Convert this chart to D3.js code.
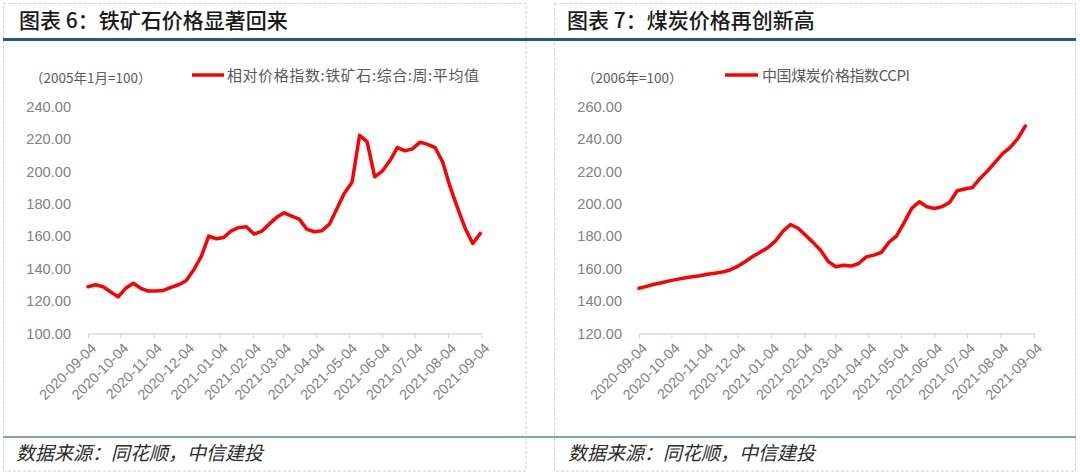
<!DOCTYPE html>
<html><head><meta charset="utf-8">
<script src="https://cdn.jsdelivr.net/npm/d3@7/dist/d3.min.js"></script>
<style>
html,body{margin:0;padding:0;background:#fff;}
svg{display:block;}
</style></head>
<body>
<svg id="c" width="1080" height="474"></svg>
<script>
// ---------- data ----------
const ironDates = ["2020-09-04","2020-09-11","2020-09-18","2020-09-25","2020-10-02","2020-10-09","2020-10-16","2020-10-23","2020-10-30","2020-11-06","2020-11-13","2020-11-20","2020-11-27","2020-12-04","2020-12-11","2020-12-18","2020-12-25","2021-01-01","2021-01-08","2021-01-15","2021-01-22","2021-01-29","2021-02-05","2021-02-12","2021-02-19","2021-02-26","2021-03-05","2021-03-12","2021-03-19","2021-03-26","2021-04-02","2021-04-09","2021-04-16","2021-04-23","2021-04-30","2021-05-07","2021-05-14","2021-05-21","2021-05-28","2021-06-04","2021-06-11","2021-06-18","2021-06-25","2021-07-02","2021-07-09","2021-07-16","2021-07-23","2021-07-30","2021-08-06","2021-08-13","2021-08-20","2021-08-27","2021-09-03"];
const ironValues = [128.9,130.1,128.9,125.6,122.7,127.9,131.0,127.9,126.2,126.2,126.6,128.5,130.1,132.6,139.2,147.4,160.1,158.5,159.3,163.4,165.5,165.9,161.4,163.0,167.5,171.7,174.5,172.5,170.6,164.4,162.8,163.4,167.5,177.2,186.8,193.4,222.4,218.3,196.7,200.2,206.6,214.8,212.7,214.0,218.1,216.7,214.8,206.0,190.5,177.2,164.9,155.6,161.8];

const coalDates = ["2020-09-04","2020-09-11","2020-09-18","2020-09-25","2020-10-02","2020-10-09","2020-10-16","2020-10-23","2020-10-30","2020-11-06","2020-11-13","2020-11-20","2020-11-27","2020-12-04","2020-12-11","2020-12-18","2020-12-25","2021-01-01","2021-01-08","2021-01-15","2021-01-22","2021-01-29","2021-02-05","2021-02-12","2021-02-19","2021-02-26","2021-03-05","2021-03-12","2021-03-19","2021-03-26","2021-04-02","2021-04-09","2021-04-16","2021-04-23","2021-04-30","2021-05-07","2021-05-14","2021-05-21","2021-05-28","2021-06-04","2021-06-11","2021-06-18","2021-06-25","2021-07-02","2021-07-09","2021-07-16","2021-07-23","2021-07-30","2021-08-06","2021-08-13","2021-08-20","2021-08-27"];
const coalValues = [147.9,149.1,150.4,151.3,152.5,153.4,154.3,155.0,155.6,156.6,157.2,157.9,159.2,161.4,164.3,167.5,170.2,173.0,177.0,183.1,187.3,185.0,180.6,176.1,171.2,164.3,161.2,162.1,161.6,163.2,167.3,168.4,170.1,176.3,180.3,188.4,197.2,201.3,198.2,197.2,198.3,200.9,208.1,209.2,210.1,215.6,220.3,225.6,231.1,234.9,240.3,248.1];

const xTickLabels = ["2020-09-04","2020-10-04","2020-11-04","2020-12-04","2021-01-04","2021-02-04","2021-03-04","2021-04-04","2021-05-04","2021-06-04","2021-07-04","2021-08-04","2021-09-04"];
const ironYTicks = [100,120,140,160,180,200,220,240];
const coalYTicks = [120,140,160,180,200,220,240,260];

const titles = ["图表 6：铁矿石价格显著回来","图表 7：煤炭价格再创新高"];
const units = ["（2005年1月=100）","（2006年=100）"];
const legends = ["相对价格指数:铁矿石:综合:周:平均值","中国煤炭价格指数CCPI"];
const sourceText = "数据来源：同花顺，中信建投";

// ---------- drawing ----------
const svg = d3.select("#c");
const parse = d3.timeParse("%Y-%m-%d");
const CJK = "'Noto Sans CJK SC','Noto Sans',sans-serif";
const LAT = "'Liberation Sans',Arial,sans-serif";

// dashed panel borders
const border = svg.append("g").attr("fill","none").attr("stroke","#cfcfcf").attr("stroke-dasharray","3,2").attr("stroke-width",1);
border.append("rect").attr("x",3.5).attr("y",3.5).attr("width",522.5).attr("height",467.5);
border.append("rect").attr("x",554.5).attr("y",3.5).attr("width",521).attr("height",467.5);

// title and footer rules
svg.append("line").attr("x1",3).attr("x2",1076).attr("y1",39.5).attr("y2",39.5).attr("stroke","#1b5a8c").attr("stroke-width",3);
svg.append("line").attr("x1",3).attr("x2",1076).attr("y1",437).attr("y2",437).attr("stroke","#7fa3c2").attr("stroke-width",2);

const panels = [
  {title:titles[0], titleX:19, unit:units[0], unitX:30, legend:legends[0], legX1:192, legX2:224, legTX:227, legW:252,
   dates:ironDates, values:ironValues, yTicks:ironYTicks, xr:[88,481.4], srcX:16},
  {title:titles[1], titleX:567, unit:units[1], unitX:582, legend:legends[1], legX1:725, legX2:758, legTX:762, legW:148,
   dates:coalDates, values:coalValues, yTicks:coalYTicks, xr:[639,1034], srcX:568}
];

panels.forEach(p => {
  const g = svg.append("g");
  g.append("text").attr("x",p.titleX).attr("y",28).attr("font-family",CJK).attr("font-size",21)
    .attr("font-weight",500).attr("fill","#1a1a1a").attr("xml:space","preserve").text(p.title);

  g.append("text").attr("x",p.unitX).attr("y",83).attr("font-family",CJK).attr("font-size",13.5)
    .attr("fill","#595959").text(p.unit);

  g.append("line").attr("x1",p.legX1).attr("x2",p.legX2).attr("y1",75).attr("y2",75)
    .attr("stroke","#ff0000").attr("stroke-width",3.5);
  g.append("text").attr("x",p.legTX).attr("y",80.5).attr("font-family",CJK).attr("font-size",15)
    .attr("fill","#595959").attr("textLength",p.legW).attr("lengthAdjust","spacing").text(p.legend);

  const x = d3.scaleTime().domain([parse(xTickLabels[0]), parse(xTickLabels[xTickLabels.length-1])]).range(p.xr);
  const y = d3.scaleLinear().domain([p.yTicks[0], p.yTicks[p.yTicks.length-1]]).range([333.5,106.7]);

  const ya = g.append("g").attr("transform",`translate(${p.xr[0]},0)`)
    .call(d3.axisLeft(y).tickValues(p.yTicks).tickFormat(d3.format(".2f")).tickSize(0).tickPadding(17));
  ya.select(".domain").remove();
  ya.selectAll("text").attr("font-family",LAT).attr("font-size",14.6).attr("fill","#7f7f7f");

  const xa = g.append("g").attr("transform","translate(0,333.5)")
    .call(d3.axisBottom(x).tickValues(xTickLabels.map(parse)).tickFormat((d,i)=>xTickLabels[i]).tickSize(5).tickSizeOuter(0));
  xa.select(".domain").attr("stroke","#d9d9d9").attr("stroke-width",1.5);
  xa.selectAll(".tick line").attr("stroke","#d9d9d9").attr("stroke-width",1);
  xa.selectAll("text").attr("font-family",LAT).attr("font-size",14.3).attr("fill","#7f7f7f")
    .attr("text-anchor","end").attr("dy","0.35em")
    .attr("transform","translate(5,12) rotate(-45)").attr("y",0).attr("x",0);

  const line = d3.line().x(d=>x(parse(d[0]))).y(d=>y(d[1]));
  g.append("path").datum(d3.zip(p.dates,p.values)).attr("d",line)
    .attr("fill","none").attr("stroke","#ff0000").attr("stroke-width",3.5)
    .attr("stroke-linejoin","round").attr("stroke-linecap","round");

  g.append("text").attr("x",p.srcX).attr("y",460).attr("font-family",CJK).attr("font-size",19)
    .attr("font-style","italic").attr("fill","#2b2b2b").text(sourceText);
});
</script>
</body></html>
